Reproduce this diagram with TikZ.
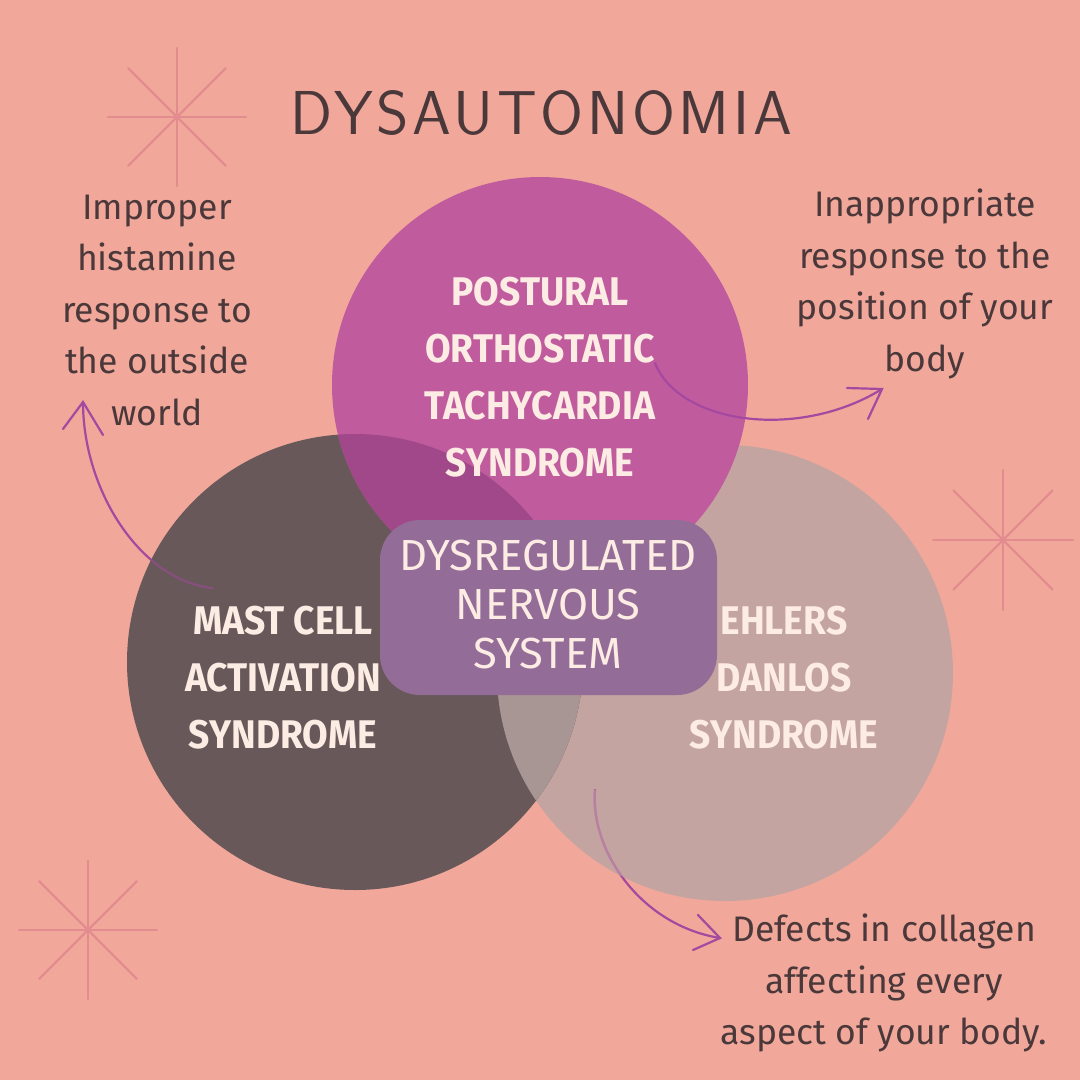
\documentclass[tikz,border=0pt]{standalone}
\usepackage{fontspec}
\setmainfont{Fira Sans}
\newfontfamily\titlefont{Latin Modern Sans}[LetterSpace=6]
\definecolor{bg}{RGB}{241,168,154}
\definecolor{pinkc}{RGB}{192,92,158}
\definecolor{darkc}{RGB}{104,88,90}
\definecolor{lightc}{RGB}{196,164,160}
\definecolor{pdc}{RGB}{160,72,138}
\definecolor{dlc}{RGB}{168,150,148}
\definecolor{boxc}{RGB}{148,108,152}
\definecolor{cream}{RGB}{252,236,228}
\definecolor{txt}{RGB}{74,56,58}
\definecolor{starc}{RGB}{226,140,144}
\definecolor{arrowc}{RGB}{165,72,160}
\tikzset{
  label/.style={align=center, text=cream, font=\fontsize{40}{57}\selectfont\bfseries, transform shape, xscale=0.93},
  side/.style={align=center, text=txt, font=\fontsize{35.5}{51.5}\selectfont},
  boxtext/.style={align=center, text=cream, font=\fontsize{43.5}{49}\selectfont},
  starline/.style={draw=starc, line width=2.2pt, line cap=round},
  arr/.style={draw=arrowc, line width=2.2pt, line cap=round},
}
\newcommand{\starshape}[2]{%
  \foreach \a in {0,45,...,315} \draw[starline] (#1) -- ++(\a:#2pt);}
\begin{document}
\begin{tikzpicture}[x=1pt,y=-1pt]
\fill[bg] (0,0) rectangle (1080,1080);
\useasboundingbox (0,0) rectangle (1080,1080);
% stars
\coordinate (s1) at (177,117);
\coordinate (s2) at (1003,540);
\coordinate (s3) at (88,930);
\starshape{s1}{69}
\starshape{s2}{70}
\starshape{s3}{69}
% title
\node[text=txt, font=\titlefont\fontsize{62}{62}\selectfont] (title) at (541,113) {DYSAUTONOMIA};
% circles
\def\pinkpath{(540,385) circle[radius=208pt]}
\def\darkpath{(355,662) circle[radius=228pt]}
\def\lightpath{(725,673) circle[radius=228pt]}
\fill[lightc] \lightpath;
\fill[darkc] \darkpath;
\fill[pinkc] \pinkpath;
\begin{scope}\clip \pinkpath; \fill[pdc] \darkpath; \end{scope}
\begin{scope}\clip \darkpath; \fill[dlc] \lightpath; \end{scope}
% centre box
\node[fill=boxc, rounded corners=40pt, minimum width=337pt, minimum height=175pt, inner sep=0pt] (box) at (548.5,607.5) {};
\node[boxtext] (boxt) at (548,605) {DYSREGULATED\\NERVOUS\\SYSTEM};
% labels
\node[label] (pots) at (540,377) {POSTURAL\\ORTHOSTATIC\\TACHYCARDIA\\SYNDROME};
\node[label] (mcas) at (283,678) {MAST CELL\\ACTIVATION\\SYNDROME};
\node[label] (eds) at (784,678) {EHLERS\\DANLOS\\SYNDROME};
% side texts
\node[side] (t1) at (157,310) {Improper\\histamine\\response to\\the outside\\world};
\node[side] (t2) at (925,284) {Inappropriate\\response to the\\position of your\\body};
\node[side] (t3) at (884,983) {Defects in collagen\\affecting every\\aspect of your body.};
% arrows
\coordinate (a1s) at (212,588); \coordinate (a1t) at (83,402);
\coordinate (a2s) at (655,363); \coordinate (a2t) at (882,389);
\coordinate (a3s) at (595,790); \coordinate (a3t) at (720,938);
\draw[arr] (a1s) .. controls (140,580) and (83,490) .. (a1t);
\draw[arr] (63,429) -- (a1t) -- (103,435);
\draw[arr] (a2s) .. controls (680,425) and (800,440) .. (a2t);
\draw[arr] (847,388) -- (a2t) -- (868,419);
\draw[arr] (a3s) .. controls (590,850) and (640,925) .. (a3t);
\draw[arr] (698,915) -- (a3t) -- (693,950);
\begin{scope}\clip \darkpath;
\draw[draw=darkc, opacity=0.5, line width=2.6pt] (a1s) .. controls (140,580) and (83,490) .. (a1t);
\end{scope}
\begin{scope}\clip \lightpath;
\draw[draw=lightc, opacity=0.6, line width=2.6pt] (a3s) .. controls (590,850) and (640,925) .. (a3t);
\end{scope}
\end{tikzpicture}
\end{document}
